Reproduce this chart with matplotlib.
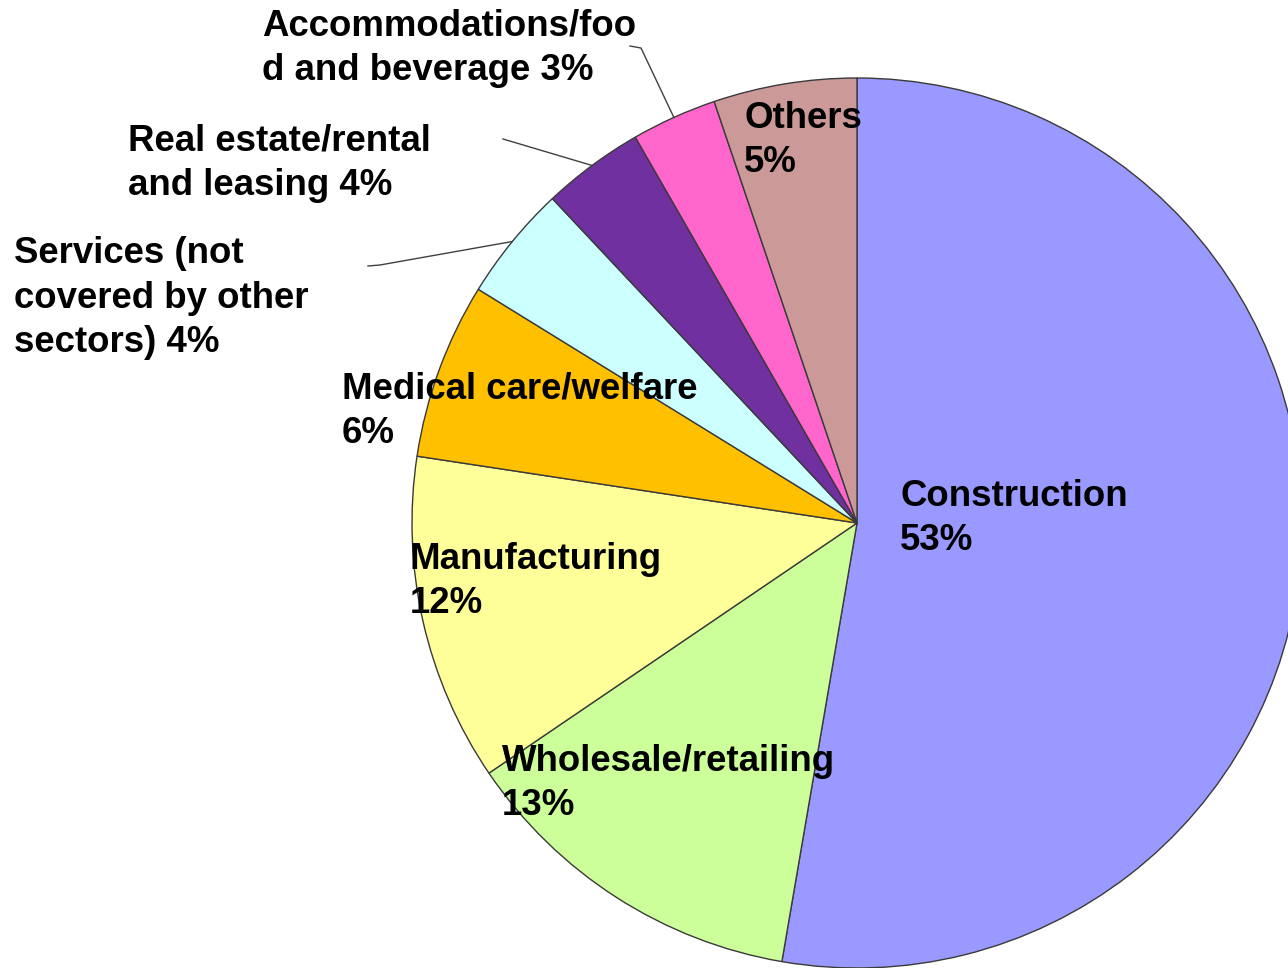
import numpy as np
import matplotlib
matplotlib.use('Agg')
import matplotlib.pyplot as plt
from matplotlib.lines import Line2D

plt.rcParams['font.family'] = ['Liberation Sans', 'DejaVu Sans']

# data (clockwise from 12 o'clock), shares
sectors = ['Construction', 'Wholesale/retailing', 'Manufacturing',
           'Medical care/welfare', 'Services (not covered by other sectors)',
           'Real estate/rental and leasing', 'Accommodations/food and beverage',
           'Others']
shares = [52.7, 12.8, 11.9, 6.4, 4.2, 3.7, 3.1, 5.2]
colors = ['#9999FF', '#CCFF99', '#FFFF99', '#FFC000', '#CCFFFF',
          '#7030A0', '#FF66CC', '#CC9999']

# label text as it is wrapped in the picture
label_texts = ['Construction\n53%', 'Wholesale/retailing\n13%',
               'Manufacturing\n12%', 'Medical care/welfare\n6%',
               'Services (not\ncovered by other\nsectors) 4%',
               'Real estate/rental\nand leasing 4%',
               'Accommodations/foo\nd and beverage 3%', 'Others\n5%']

W, H = 1288, 968
fig = plt.figure(figsize=(W / 100, H / 100), dpi=100)

# pie centre (857, 523) px, radius 445 px
cx, cy, r = 857, 523, 445
ax = fig.add_axes([(cx - r) / W, (H - cy - r) / H, 2 * r / W, 2 * r / H])
wedges, _ = ax.pie(shares, colors=colors, startangle=90, counterclock=False,
                   radius=1.0,
                   wedgeprops=dict(edgecolor='#3a3a3a', linewidth=1.0))
ax.set_xlim(-1, 1)
ax.set_ylim(-1, 1)
ax.axis('off')

# label positions: left x and first-line baseline, in pixels from top-left
label_pos = [(900, 505), (502, 770), (410, 568), (342, 398),
             (14, 262), (128, 150), (262, 35), (744, 127)]
line_step = 45

for txt, (x, y) in zip(label_texts, label_pos):
    # va='baseline' sits on the last line, so shift down by the extra lines
    y_last = y + line_step * txt.count('\n')
    fig.text(x / W, 1 - y_last / H, txt, fontsize=26.4, fontweight='bold',
             ha='left', va='baseline', linespacing=1.35, color='black')


def px(x, y):
    return x / W, 1 - y / H


# leader lines from the small outer slices to their labels
leaders = {6: [(630, 46), (641, 48)], 5: [(503, 139)], 4: [(368, 266), (380, 265)]}
for i, pts in leaders.items():
    w = wedges[i]
    ang = np.deg2rad((w.theta1 + w.theta2) / 2)
    ex, ey = cx + r * np.cos(ang), cy - r * np.sin(ang)
    allp = pts + [(ex, ey)]
    xs = [px(a, b)[0] for a, b in allp]
    ys = [px(a, b)[1] for a, b in allp]
    fig.add_artist(Line2D(xs, ys, color='#404040', linewidth=1.0,
                          transform=fig.transFigure))

fig.savefig('out.png', dpi=100)
